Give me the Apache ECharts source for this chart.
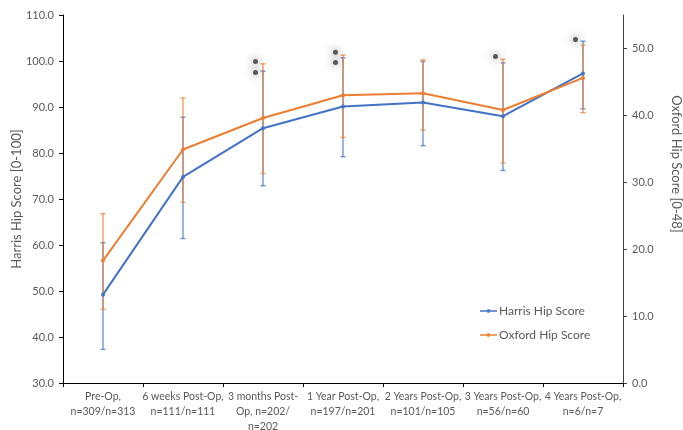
<!DOCTYPE html>
<html>
<head>
<meta charset="utf-8">
<script src="https://cdn.jsdelivr.net/npm/echarts@6/dist/echarts.min.js"></script>
<style>
  html, body { margin: 0; padding: 0; background: #fff; }
  #chart { width: 683px; height: 430px; }
</style>
</head>
<body>
<div id="chart"></div>
<script>
// Follow-up time points with number of patients (Harris / Oxford)
const categories = [
  'Pre-Op,\nn=309/n=313',
  '6 weeks Post-Op,\nn=111/n=111',
  '3 months Post-\nOp, n=202/\nn=202',
  '1 Year Post-Op,\nn=197/n=201',
  '2 Years Post-Op,\nn=101/n=105',
  '3 Years Post-Op,\nn=56/n=60',
  '4 Years Post-Op,\nn=6/n=7'
];

// Harris Hip Score (left axis): mean and error range
const harrisMean = [49.2, 74.8, 85.4, 90.1, 91.0, 88.0, 97.3];
const harrisLow  = [37.3, 61.4, 72.9, 79.2, 81.6, 76.2, 89.6];
const harrisHigh = [60.5, 87.8, 97.8, 100.7, 99.9, 99.6, 104.3];

// Oxford Hip Score (right axis): mean and error range
const oxfordMean = [18.3, 34.9, 39.6, 43.0, 43.3, 40.8, 45.6];
const oxfordLow  = [11.0, 27.0, 31.3, 36.7, 37.8, 32.9, 40.4];
const oxfordHigh = [25.3, 42.6, 47.7, 49.0, 48.3, 48.4, 50.5];

// Outlier markers: [time point index, Harris value]
const outliers = [[2, 99.9], [2, 97.5], [3, 101.9], [3, 99.7], [5, 101.0], [6, 104.7]];

// Tick values
const leftTicks = [30, 40, 50, 60, 70, 80, 90, 100, 110];
const rightTicks = [0, 10, 20, 30, 40, 50];

const BLUE = '#4472C4';
const ORANGE = '#ED7D31';
const TEXT = '#595959';
const FONT = 'Lato, "Open Sans", sans-serif';

// Legend glyph: short line with a small marker in the middle
const LEGEND_ICON = 'path://M0,4 L17,4 L17,5.4 L0,5.4 Z M7.3,3 L9.7,3 L9.7,6.4 L7.3,6.4 Z';

function errorData(low, high) {
  return low.map((l, i) => [i, l, high[i]]);
}

function errorRenderer(color) {
  return function (params, api) {
    const i = api.value(0);
    const lo = api.coord([i, api.value(1)]);
    const hi = api.coord([i, api.value(2)]);
    const cap = 2.5;
    const style = { stroke: color, lineWidth: 1.4, opacity: 0.75 };
    return {
      type: 'group',
      children: [
        { type: 'line', shape: { x1: lo[0], y1: lo[1], x2: hi[0], y2: hi[1] }, style },
        { type: 'line', shape: { x1: lo[0] - cap, y1: lo[1], x2: lo[0] + cap, y2: lo[1] }, style },
        { type: 'line', shape: { x1: hi[0] - cap, y1: hi[1], x2: hi[0] + cap, y2: hi[1] }, style }
      ]
    };
  };
}

const chart = echarts.init(document.getElementById('chart'), null, { renderer: 'canvas' });

chart.setOption({
  animation: false,
  textStyle: { fontFamily: FONT },
  grid: {
    left: 63, right: 60, top: 15, bottom: 47,
    containLabel: false,
    outerBoundsMode: 'none'
  },
  legend: {
    orient: 'vertical',
    left: 475,
    top: 300,
    itemWidth: 17,
    itemHeight: 10,
    itemGap: 12,
    textStyle: { color: TEXT, fontSize: 12, fontFamily: FONT, padding: [0, 0, 0, -3] },
    data: [
      { name: 'Harris Hip Score', icon: LEGEND_ICON },
      { name: 'Oxford Hip Score', icon: LEGEND_ICON }
    ]
  },
  xAxis: {
    type: 'category',
    data: categories,
    boundaryGap: true,
    axisLine: { lineStyle: { color: '#000', width: 1 } },
    axisTick: { show: true, length: 4, lineStyle: { color: '#000' } },
    axisLabel: {
      color: TEXT, fontSize: 10.5, fontFamily: FONT, lineHeight: 15,
      margin: 6, interval: 0
    },
    splitLine: { show: false }
  },
  yAxis: [
    {
      type: 'value',
      min: 30, max: 110, interval: 10,
      name: 'Harris Hip Score [0-100]',
      nameLocation: 'middle',
      nameGap: 40,
      nameMoveOverlap: false,
      nameTextStyle: { color: TEXT, fontSize: 13, fontFamily: FONT },
      axisLine: { show: true, lineStyle: { color: '#000', width: 1 } },
      axisTick: { show: true, length: 4, lineStyle: { color: '#000' }, customValues: leftTicks },
      axisLabel: {
        color: TEXT, fontSize: 11, fontFamily: FONT, margin: 9,
        customValues: leftTicks,
        formatter: v => v.toFixed(1)
      },
      splitLine: { show: false }
    },
    {
      type: 'value',
      min: 0, max: 55, interval: 10,
      position: 'right',
      axisLine: { show: true, lineStyle: { color: '#404040', width: 1 } },
      axisTick: { show: true, length: 4, lineStyle: { color: '#404040' }, customValues: rightTicks },
      axisLabel: {
        color: TEXT, fontSize: 11, fontFamily: FONT, margin: 9,
        customValues: rightTicks,
        formatter: v => v.toFixed(1)
      },
      splitLine: { show: false }
    }
  ],
  graphic: [
    {
      type: 'text',
      x: 676,
      y: 164,
      rotation: -Math.PI / 2,
      style: {
        text: 'Oxford Hip Score [0-48]',
        fill: TEXT,
        font: '13px ' + FONT,
        align: 'center',
        verticalAlign: 'middle'
      }
    }
  ],
  series: [
    {
      type: 'custom',
      name: 'Harris error',
      yAxisIndex: 0,
      z: 1,
      renderItem: errorRenderer(BLUE),
      data: errorData(harrisLow, harrisHigh)
    },
    {
      type: 'custom',
      name: 'Oxford error',
      yAxisIndex: 1,
      z: 1,
      renderItem: errorRenderer(ORANGE),
      data: errorData(oxfordLow, oxfordHigh)
    },
    {
      type: 'line',
      name: 'Harris Hip Score',
      yAxisIndex: 0,
      z: 3,
      data: harrisMean,
      symbol: 'circle',
      symbolSize: 4,
      itemStyle: { color: BLUE },
      lineStyle: { color: BLUE, width: 2 }
    },
    {
      type: 'line',
      name: 'Oxford Hip Score',
      yAxisIndex: 1,
      z: 3,
      data: oxfordMean,
      symbol: 'circle',
      symbolSize: 4,
      itemStyle: { color: ORANGE },
      lineStyle: { color: ORANGE, width: 2 }
    },
    {
      type: 'scatter',
      name: 'Outliers',
      yAxisIndex: 0,
      z: 4,
      data: outliers,
      symbol: 'circle',
      symbolSize: 5,
      symbolOffset: [-7.5, 0],
      itemStyle: {
        color: '#333',
        shadowBlur: 9,
        shadowColor: 'rgba(0,0,0,0.85)'
      }
    }
  ]
});
</script>
</body>
</html>
